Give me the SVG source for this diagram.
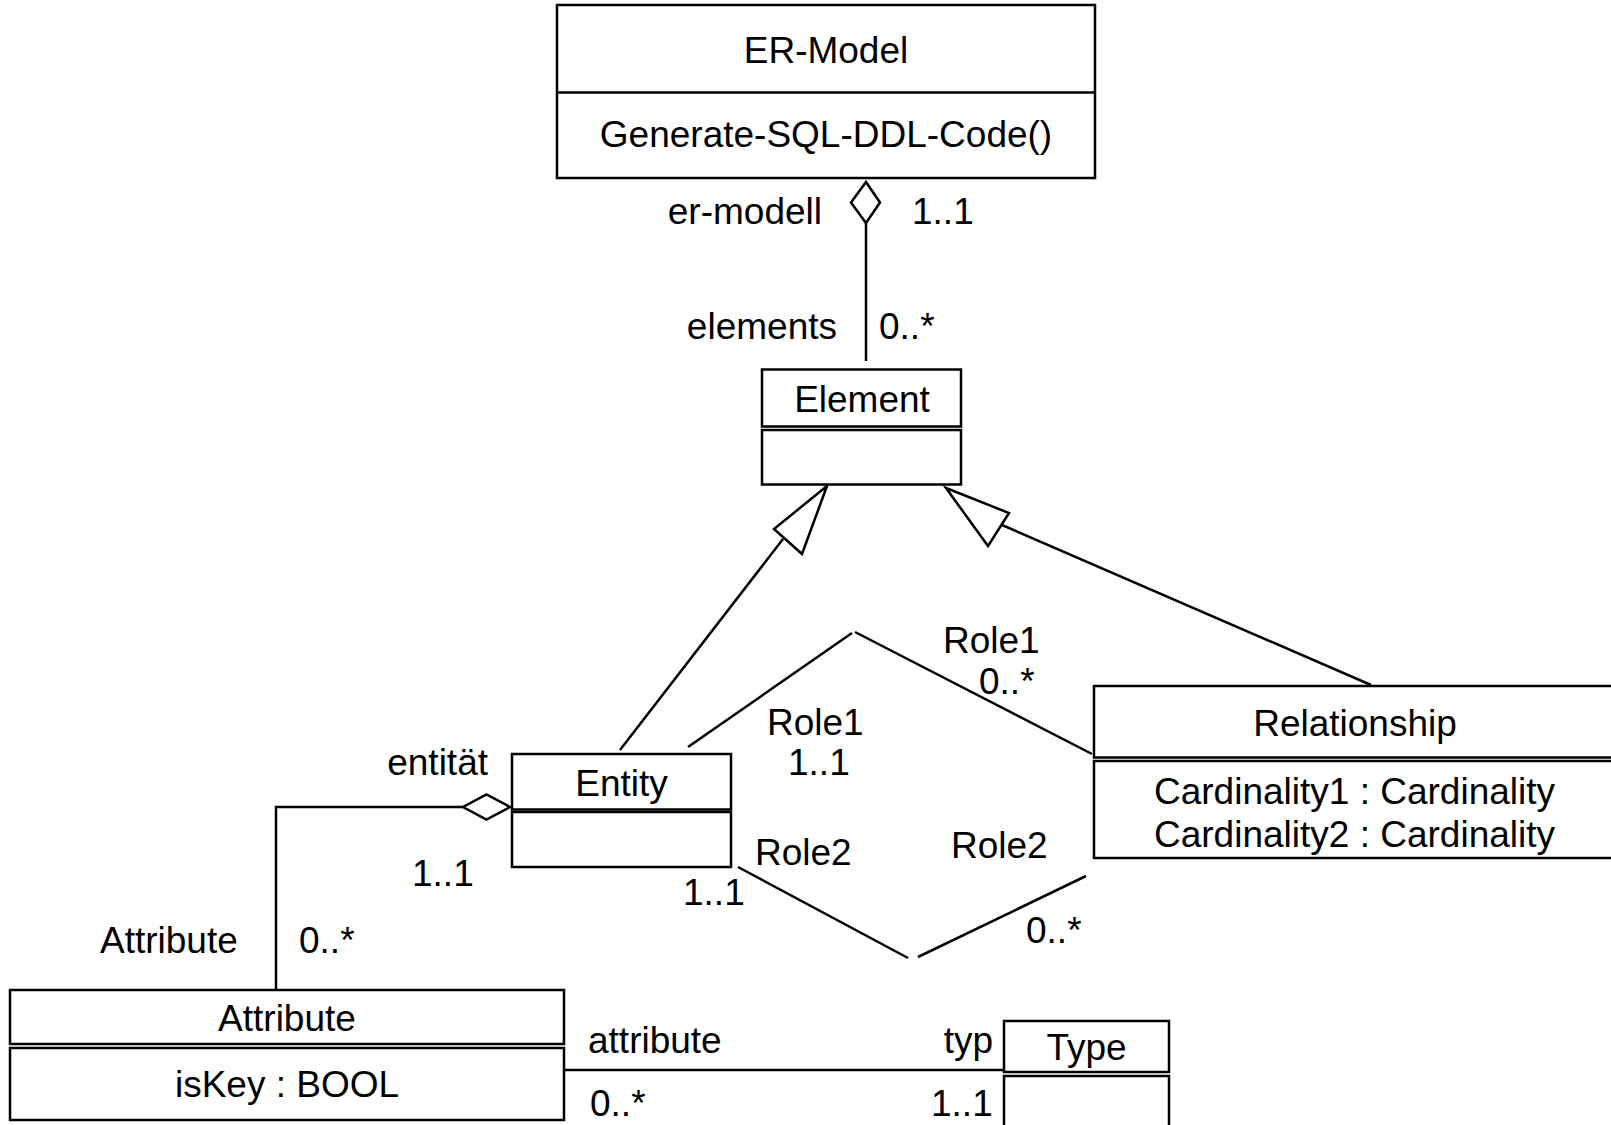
<svg xmlns="http://www.w3.org/2000/svg" width="1611" height="1125" viewBox="0 0 1611 1125">
  <style>
    .box { fill: #ffffff; stroke: #000000; stroke-width: 2.5; }
    .ln { fill: none; stroke: #000000; stroke-width: 2.5; }
    .head { fill: #ffffff; stroke: #000000; stroke-width: 2.5; stroke-linejoin: miter; }
    text { font-family: "Liberation Sans", Arial, Helvetica, sans-serif; font-size: 37px; fill: #000000; }
    .mid { text-anchor: middle; }
    .end { text-anchor: end; }
  </style>
  <rect x="0" y="0" width="1611" height="1125" fill="#ffffff"/>

  <!-- Associations, generalizations and their end labels -->
  <g id="connectors">
    <!-- ER-Model <>— Element -->
    <line class="ln" x1="866" y1="223" x2="866" y2="361"/>
    <polygon class="head" points="866,182 851,202.5 866,223 880,202.5"/>
    <text class="end" x="822" y="224">er-modell</text>
    <text x="912" y="224">1..1</text>
    <text class="end" x="837" y="339">elements</text>
    <text x="879" y="339">0..*</text>

    <!-- Entity —|> Element -->
    <line class="ln" x1="620" y1="750" x2="783" y2="539"/>
    <polygon class="head" points="827,486 774,529 802,554"/>

    <!-- Relationship —|> Element -->
    <line class="ln" x1="1002" y1="525" x2="1371" y2="685"/>
    <polygon class="head" points="946,488 1009,513 988,546"/>

    <!-- Role1: Entity — Relationship -->
    <line class="ln" x1="688" y1="747" x2="852" y2="633"/>
    <line class="ln" x1="855" y1="632" x2="1092" y2="754"/>
    <text x="943" y="653">Role1</text>
    <text x="979" y="694">0..*</text>
    <text x="767" y="735">Role1</text>
    <text x="788" y="775">1..1</text>

    <!-- Role2: Entity — Relationship -->
    <line class="ln" x1="738" y1="867" x2="908" y2="958"/>
    <line class="ln" x1="918" y1="957" x2="1086" y2="876"/>
    <text x="755" y="865">Role2</text>
    <text x="683" y="905">1..1</text>
    <text x="951" y="858">Role2</text>
    <text x="1026" y="943">0..*</text>

    <!-- Entity <>— Attribute -->
    <polyline class="ln" points="463,807 276,807 276,990"/>
    <polygon class="head" points="510,807 486.5,794.5 463,807 486.5,819.5"/>
    <text class="end" x="488" y="775">entität</text>
    <text x="412" y="886">1..1</text>
    <text x="100" y="953">Attribute</text>
    <text x="299" y="953">0..*</text>

    <!-- Attribute — Type -->
    <line class="ln" x1="564" y1="1070" x2="1004" y2="1070"/>
    <text x="588" y="1053">attribute</text>
    <text class="end" x="993" y="1053">typ</text>
    <text x="590" y="1116">0..*</text>
    <text x="931" y="1116">1..1</text>
  </g>

  <g id="er-model">
    <rect class="box" x="557" y="5" width="538" height="173"/>
    <line class="ln" x1="557" y1="92.5" x2="1095" y2="92.5"/>
    <text class="mid" x="826" y="63">ER-Model</text>
    <text class="mid" x="826" y="147">Generate-SQL-DDL-Code()</text>
  </g>

  <g id="element">
    <rect class="box" x="762" y="369.5" width="199" height="57"/>
    <rect class="box" x="762" y="430" width="199" height="54.5"/>
    <text class="mid" x="862" y="412">Element</text>
  </g>

  <g id="entity">
    <rect class="box" x="512" y="754" width="219" height="55.5"/>
    <rect class="box" x="512" y="812" width="219" height="55"/>
    <text class="mid" x="621.5" y="796">Entity</text>
  </g>

  <g id="relationship">
    <rect class="box" x="1094" y="686" width="560" height="71.5"/>
    <rect class="box" x="1094" y="761" width="560" height="97"/>
    <text class="mid" x="1355" y="736">Relationship</text>
    <text x="1154" y="804">Cardinality1 : Cardinality</text>
    <text x="1154" y="847">Cardinality2 : Cardinality</text>
  </g>

  <g id="attribute">
    <rect class="box" x="10" y="990" width="554" height="54"/>
    <rect class="box" x="10" y="1048" width="554" height="72"/>
    <text class="mid" x="287" y="1031">Attribute</text>
    <text class="mid" x="287" y="1097">isKey : BOOL</text>
  </g>

  <g id="type">
    <rect class="box" x="1004" y="1021" width="165" height="51"/>
    <rect class="box" x="1004" y="1076" width="165" height="70"/>
    <text class="mid" x="1086.5" y="1060">Type</text>
  </g>
</svg>
